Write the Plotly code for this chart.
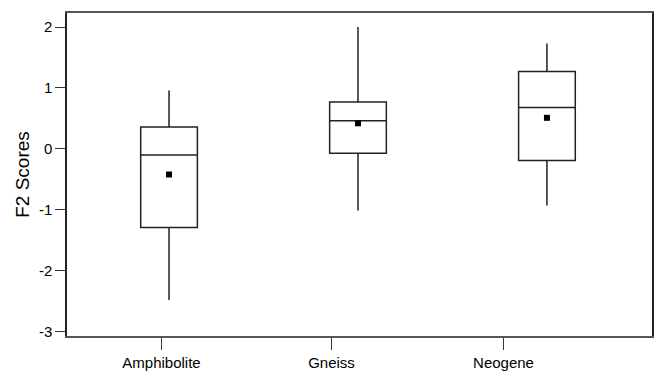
import plotly.graph_objects as go

categories = ["Amphibolite", "Gneiss", "Neogene"]
upper_fence = [0.96, 2.00, 1.73]
q3 = [0.36, 0.77, 1.27]
median = [-0.10, 0.46, 0.68]
mean = [-0.42, 0.42, 0.51]
q1 = [-1.29, -0.07, -0.19]
lower_fence = [-2.48, -1.01, -0.93]
y_ticks = [2, 1, 0, -1, -2, -3]

box_x = [0, 1, 2]
label_x = [-0.04, 0.86, 1.77]

FONT = "Liberation Sans, Arial, sans-serif"

fig = go.Figure()
fig.add_trace(go.Box(
    x=box_x, q1=q1, median=median, q3=q3,
    lowerfence=lower_fence, upperfence=upper_fence,
    width=0.30, whiskerwidth=0,
    fillcolor="white",
    line=dict(color="#222222", width=1.5),
    boxpoints=False, showlegend=False, hoverinfo="skip",
))
fig.add_trace(go.Scatter(
    x=box_x, y=mean, mode="markers",
    marker=dict(symbol="square", size=6, color="black"),
    showlegend=False,
))

fig.update_layout(
    width=656, height=374,
    margin=dict(l=67, r=4, t=13, b=38),
    paper_bgcolor="white", plot_bgcolor="white",
    font=dict(family=FONT, size=15, color="black"),
)
fig.update_xaxes(
    range=[-0.54, 2.556], automargin=False,
    tickmode="array", tickvals=label_x, ticktext=categories,
    ticks="outside", ticklen=12, tickcolor="#333333", tickwidth=1,
    showline=True, linecolor="#555555", linewidth=1.5, mirror=True,
    showgrid=False, zeroline=False,
    tickfont=dict(size=15, family=FONT),
)
fig.update_yaxes(
    range=[-3.07, 2.23], automargin=False,
    tickmode="array", tickvals=y_ticks, ticktext=[str(v) for v in y_ticks],
    ticks="outside", ticklen=10, tickcolor="#333333", tickwidth=1,
    showline=True, linecolor="#222222", linewidth=1.5, mirror=True,
    showgrid=False, zeroline=False,
    title=dict(text="F2 Scores", font=dict(size=19, family=FONT), standoff=4),
    tickfont=dict(size=15, family=FONT),
)

fig.write_html("out.html", config={"displayModeBar": False},
               post_script="document.body.style.margin='0';")
